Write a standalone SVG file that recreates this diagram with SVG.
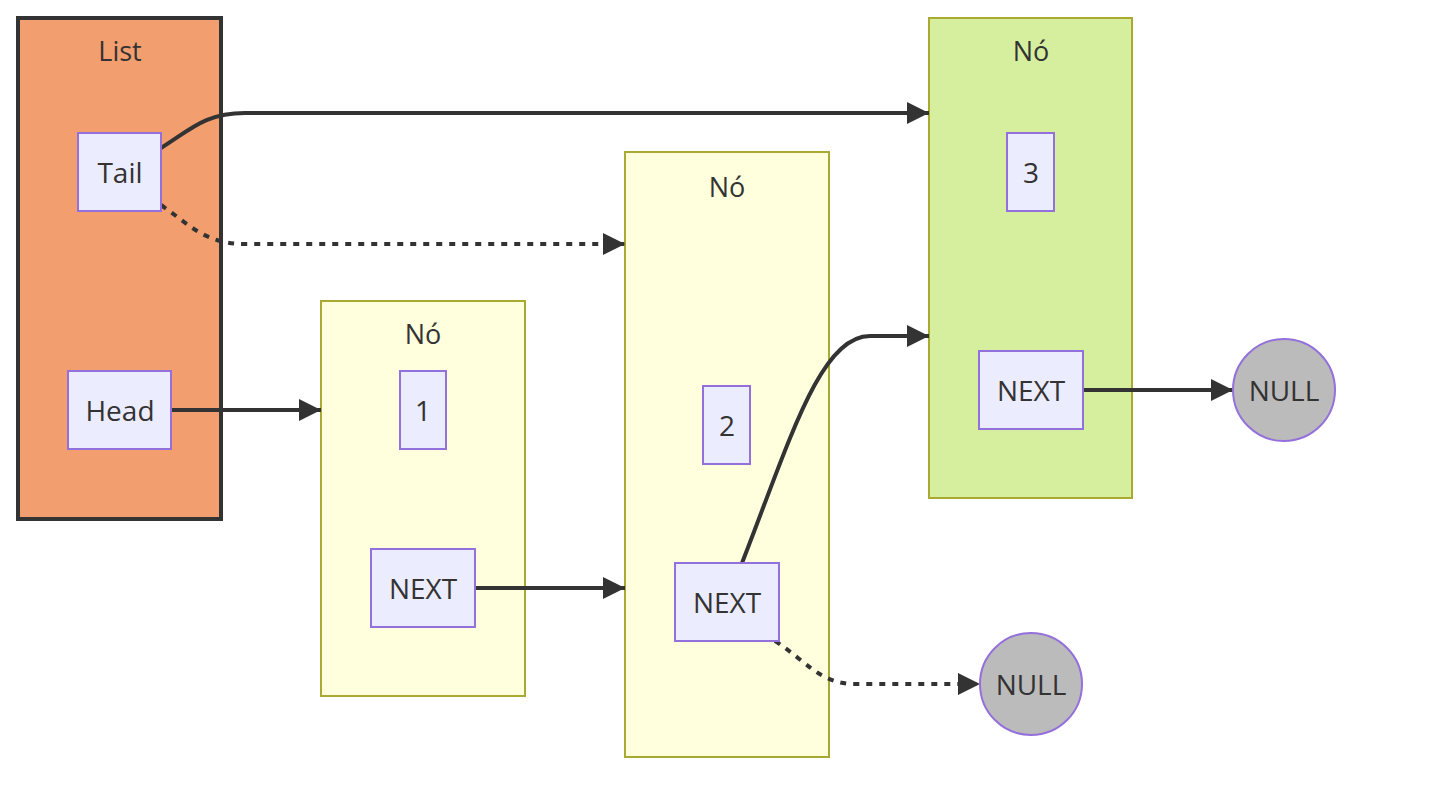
<svg xmlns="http://www.w3.org/2000/svg" width="1450" height="792" viewBox="0 0 1450 792">
<style>
text{font-family:"Open Sans","DejaVu Sans",sans-serif;font-size:28px;fill:#333;text-anchor:middle;dominant-baseline:central}
.cl{font-size:27px}
.n{fill:#ececff;stroke:#9370db;stroke-width:2}
.nul{fill:#bbb;stroke:#9370db;stroke-width:2}
.c{fill:#ffffde;stroke:#aaaa33;stroke-width:2}
.e{fill:none;stroke:#333;stroke-width:4}
.d{stroke-dasharray:6 7}
</style>
<defs>
<marker id="ah" viewBox="0 0 22 22" refX="22" refY="11" markerWidth="22" markerHeight="22" markerUnits="userSpaceOnUse" orient="auto">
<path d="M0,0 L22,11 L0,22 Z" fill="#333"/>
</marker>
</defs>
<rect width="1450" height="792" fill="#fff"/>
<g id="cluster-list">
<rect x="18" y="18" width="203" height="501" fill="#f29e6f" stroke="#333" stroke-width="4"/>
<text x="120" y="50" class="cl">List</text>
</g>
<g id="cluster-no1">
<rect x="321" y="301" width="204" height="395" class="c"/>
<text x="423" y="333" class="cl">Nó</text>
</g>
<g id="cluster-no2">
<rect x="625" y="152" width="204" height="605" class="c"/>
<text x="727" y="186" class="cl">Nó</text>
</g>
<g id="cluster-no3">
<rect x="929" y="18" width="203" height="480" fill="#d5ef9f" stroke="#aaaa33" stroke-width="2"/>
<text x="1031" y="50" class="cl">Nó</text>
</g>
<g id="connectors">
<path class="e" d="M161,148 C190,130 205,113 245,113 L929,113" marker-end="url(#ah)"/>
<path class="e d" d="M161,205 C190,225 205,244 245,244 L625,244" marker-end="url(#ah)"/>
<path class="e" d="M171,410 L321,410" marker-end="url(#ah)"/>
<path class="e" d="M475,588 L625,588" marker-end="url(#ah)"/>
<path class="e" d="M742,563 C790,440 820,336 870,336 L929,336" marker-end="url(#ah)"/>
<path class="e" d="M1083,390 L1233,390" marker-end="url(#ah)"/>
<path class="e d" d="M775,641 C805,660 820,684 855,684 L980,684" marker-end="url(#ah)"/>
</g>
<g id="tail"><rect x="78" y="133" width="83" height="78" class="n"/><text x="120" y="172">Tail</text></g>
<g id="head"><rect x="68" y="371" width="103" height="78" class="n"/><text x="120" y="410">Head</text></g>
<g id="v1"><rect x="400" y="371" width="46" height="78" class="n"/><text x="423" y="410">1</text></g>
<g id="next1"><rect x="371" y="549" width="104" height="78" class="n"/><text x="423" y="588">NEXT</text></g>
<g id="v2"><rect x="703" y="386" width="47" height="78" class="n"/><text x="727" y="425">2</text></g>
<g id="next2"><rect x="675" y="563" width="104" height="78" class="n"/><text x="727" y="602">NEXT</text></g>
<g id="v3"><rect x="1007" y="133" width="47" height="78" class="n"/><text x="1031" y="172">3</text></g>
<g id="next3"><rect x="979" y="351" width="104" height="78" class="n"/><text x="1031" y="390">NEXT</text></g>
<g id="null1"><circle cx="1284" cy="390" r="51" class="nul"/><text x="1284" y="390">NULL</text></g>
<g id="null2"><circle cx="1031" cy="684" r="51" class="nul"/><text x="1031" y="684">NULL</text></g>
</svg>
